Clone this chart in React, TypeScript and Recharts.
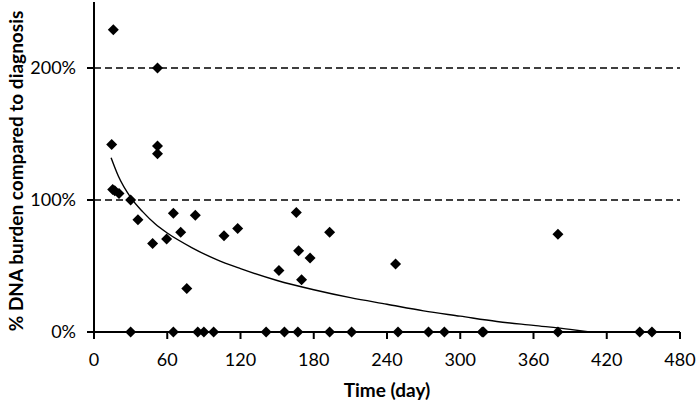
import { ComposedChart, Scatter, Line, XAxis, YAxis, ReferenceLine } from "recharts";

// measured points (day, % of diagnosis burden)
const positiveDays = [14.5, 15.8, 15.3, 17, 20.5, 30, 36, 48, 52, 52, 52, 59.5, 65, 71, 76, 83, 106.5, 117.7, 151.5, 165.7, 167.6, 170, 177, 193, 247, 380];
const positiveVals = [142, 229, 108, 107, 105, 100, 85, 67, 200, 141, 135, 70.5, 90, 75.5, 33, 88.5, 73, 78.5, 46.5, 90.5, 61.5, 39.5, 56, 75.5, 51.5, 74];
const zeroDays = [30, 65, 85, 90, 98, 141, 156, 167, 193, 211, 249, 274, 287, 318, 319, 380, 447, 457];

// trend curve
const trendDays = [14, 20, 30, 40, 50, 60, 80, 100, 120, 150, 180, 210, 240, 270, 300, 330, 360, 390, 406];
const trendVals = [132, 118, 102, 91, 82, 75, 64, 55, 48, 39, 32, 26, 21, 16, 12, 8, 5, 2, 0];

const xTicks = [0, 60, 120, 180, 240, 300, 360, 420, 480];
const yTicks = [0, 100, 200];

const points = [
  ...positiveDays.map((d, i) => ({ x: d, y: positiveVals[i] })),
  ...zeroDays.map(d => ({ x: d, y: 0 })),
];
const trend = trendDays.map((d, i) => ({ x: d, y: trendVals[i] }));

const FONT = "Lato, 'Open Sans', sans-serif";

function Diamond(props: any) {
  const { cx, cy } = props;
  const r = 5.5;
  return <polygon points={`${cx},${cy - r} ${cx + r},${cy} ${cx},${cy + r} ${cx - r},${cy}`} fill="#000" />;
}

export default function App() {
  return (
    <div style={{ position: "absolute", left: 0, top: 0, width: 700, height: 404, background: "#fff", fontFamily: FONT }}>
      <ComposedChart width={700} height={404} margin={{ top: 2, right: 20, bottom: 0, left: 0 }}>
        <XAxis
          type="number"
          dataKey="x"
          domain={[0, 480]}
          ticks={xTicks}
          axisLine={false}
          tickLine={{ stroke: "#000", strokeWidth: 2 }}
          tickSize={7}
          tickMargin={14}
          height={72}
          tick={{ fill: "#000", fontSize: 18, fontFamily: FONT }}
          label={() => (
            <text x={387} y={397} textAnchor="middle" fontSize={19} fontWeight="bold" fontFamily={FONT} fill="#000">
              Time (day)
            </text>
          )}
        />
        <YAxis
          type="number"
          dataKey="y"
          domain={[0, 250]}
          ticks={yTicks}
          width={94}
          axisLine={false}
          tickLine={{ stroke: "#000", strokeWidth: 2 }}
          tickSize={7}
          tickMargin={11}
          tickFormatter={(v: number) => `${v}%`}
          tick={{ fill: "#000", fontSize: 18, fontFamily: FONT }}
          label={() => (
            <text transform="translate(23,171) rotate(-90)" textAnchor="middle" fontSize={19} fontWeight="bold" fontFamily={FONT} fill="#000">
              % DNA burden compared to diagnosis
            </text>
          )}
        />
        <ReferenceLine y={100} stroke="#000" strokeWidth={1.3} strokeDasharray="7 4" />
        <ReferenceLine y={200} stroke="#000" strokeWidth={1.3} strokeDasharray="7 4" />
        <ReferenceLine y={0} stroke="#000" strokeWidth={2} />
        <ReferenceLine x={0} stroke="#000" strokeWidth={2} />
        <Line data={trend} dataKey="y" type="monotone" dot={false} stroke="#000" strokeWidth={1.4} isAnimationActive={false} />
        <Scatter data={points} shape={<Diamond />} isAnimationActive={false} />
      </ComposedChart>
    </div>
  );
}
